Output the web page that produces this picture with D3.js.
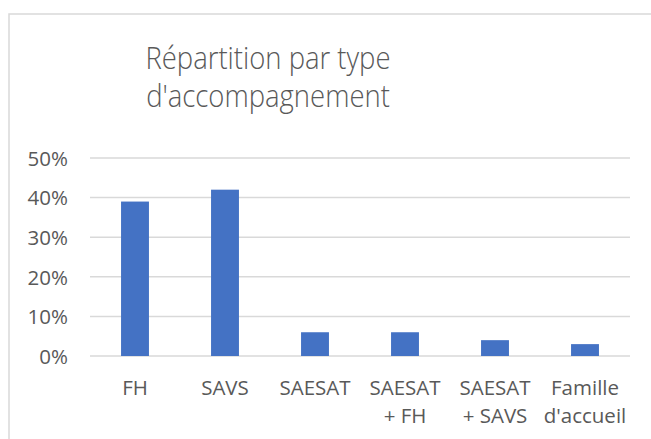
<!DOCTYPE html>
<html>
<head>
<meta charset="utf-8">
<script src="https://cdn.jsdelivr.net/npm/d3@7"></script>
<style>
  html, body { margin: 0; padding: 0; background: #ffffff; }
  svg { display: block; }
</style>
</head>
<body>
<div id="chart"></div>
<script>
const categories = ['FH', 'SAVS', 'SAESAT', 'SAESAT\n+ FH', 'SAESAT\n+ SAVS', "Famille\nd'accueil"];
const shares = [0.39, 0.42, 0.06, 0.06, 0.04, 0.03];
const yTicks = [0, 0.1, 0.2, 0.3, 0.4, 0.5];
const titleLines = ['Répartition par type', "d'accompagnement"];

const drawChart = () => {
  const totalWidth = 651;
  const totalHeight = 439;
  const margin = { top: 158, right: 21, bottom: 83, left: 90 };
  const width = totalWidth - margin.left - margin.right;
  const height = totalHeight - margin.top - margin.bottom;
  const font = "'Open Sans', sans-serif";
  const textColor = '#595959';

  const svg = d3
    .select('#chart')
    .append('svg')
    .attr('width', totalWidth)
    .attr('height', totalHeight);

  // Chart border (runs off the right and bottom edges)
  svg
    .append('rect')
    .attr('x', 9)
    .attr('y', 14)
    .attr('width', totalWidth + 20)
    .attr('height', totalHeight + 20)
    .attr('fill', 'none')
    .attr('stroke', '#d9d9d9')
    .attr('stroke-width', 1.5);

  // Title
  const title = svg
    .append('text')
    .attr('text-anchor', 'middle')
    .attr('font-family', font)
    .attr('font-size', 30.5)
    .attr('font-weight', 300)
    .attr('fill', textColor);
  title
    .selectAll('tspan')
    .data(titleLines)
    .join('tspan')
    .attr('x', 268)
    .attr('y', (d, i) => 69 + i * 38)
    .text((d) => d);

  // Narrow the title glyphs a little to approach the original face
  title.selectAll('tspan').each(function () {
    const len = this.getComputedTextLength();
    d3.select(this).attr('textLength', len * 0.9).attr('lengthAdjust', 'spacingAndGlyphs');
  });

  const g = svg
    .append('g')
    .attr('transform', `translate(${margin.left}, ${margin.top})`);

  const xScale = d3.scaleBand().domain(categories).range([0, width]).paddingInner(0.69).paddingOuter(0.345);

  const yScale = d3.scaleLinear().domain([0, 0.5]).range([height, 0]);

  // Gridlines
  g.append('g')
    .selectAll('line')
    .data(yTicks)
    .join('line')
    .attr('x1', 0)
    .attr('x2', width)
    .attr('y1', (d) => yScale(d))
    .attr('y2', (d) => yScale(d))
    .attr('stroke', '#d9d9d9')
    .attr('stroke-width', 1.5);

  // Y axis
  const yAxis = g
    .append('g')
    .attr('transform', 'translate(-22, 0)')
    .call(d3.axisLeft(yScale).tickValues(yTicks).tickFormat(d3.format('.0%')).tickSize(0).tickPadding(0));
  yAxis.select('.domain').remove();
  yAxis
    .selectAll('text')
    .attr('font-family', font)
    .attr('font-size', 20.5)
    .attr('fill', textColor)
    .attr('dy', '0.36em');

  // Bars
  g.append('g')
    .selectAll('rect')
    .data(shares)
    .join('rect')
    .attr('x', (d, i) => xScale(categories[i]))
    .attr('y', (d) => yScale(d))
    .attr('width', xScale.bandwidth())
    .attr('height', (d) => height - yScale(d))
    .attr('fill', '#4472c4');

  // X labels
  const labels = g
    .append('g')
    .selectAll('text')
    .data(categories)
    .join('text')
    .attr('text-anchor', 'middle')
    .attr('font-family', font)
    .attr('font-size', 20.5)
    .attr('fill', textColor);
  labels
    .selectAll('tspan')
    .data((d) => d.split('\n').map((line) => ({ line, cat: d })))
    .join('tspan')
    .attr('x', (d) => xScale(d.cat) + xScale.bandwidth() / 2)
    .attr('y', (d, i) => height + 39 + i * 28)
    .text((d) => d.line);
};

drawChart();
</script>
</body>
</html>
